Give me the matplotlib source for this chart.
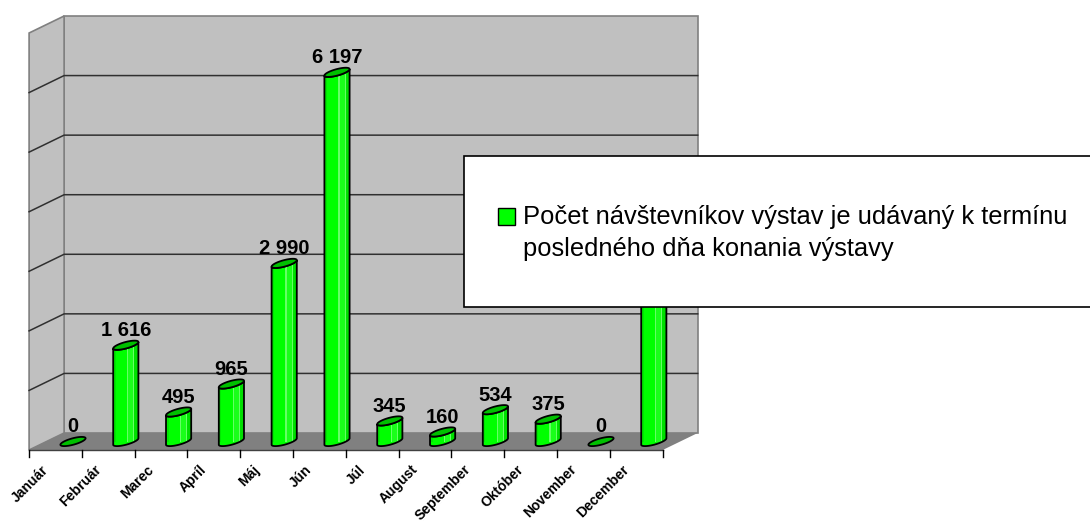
import numpy as np
import matplotlib
matplotlib.use("Agg")
import matplotlib.pyplot as plt
from matplotlib.patches import Polygon, Rectangle
from matplotlib.lines import Line2D
from matplotlib.transforms import IdentityTransform, offset_copy

months = ["Január", "Február", "Marec", "Apríl", "Máj", "Jún", "Júl",
          "August", "September", "Október", "November", "December"]
visitors = [0, 1616, 495, 965, 2990, 6197, 345, 160, 534, 375, 0, 3500]
legend_label = ("Počet návštevníkov výstav je udávaný k termínu\n"
                "posledného dňa konania výstavy")
y_max = 7000
grid_step = 1000

plt.rcParams['font.family'] = ['Liberation Sans', 'DejaVu Sans']

W, H = 1090, 527
fig = plt.figure(figsize=(W / 100, H / 100), dpi=100)
ax = fig.add_axes([46.6 / W, 85.5 / H, 633.6 / W, 417 / H])
ax.set_xlim(-0.5, len(months) - 0.5)
ax.set_ylim(0, y_max)
ax.axis('off')

ident = IdentityTransform()
BACK = (17.5, 8.5)     # half depth of the box, pixels
FRONT = (-17.5, -8.5)
WALL = '#c0c0c0'
FLOOR = '#808080'
EDGE = '#808080'
GRID = '#303030'

# legend box, figure fraction (left, bottom, width, height)
LEG = (464 / W, 1 - 307 / H, 0.7, 151 / H)


def disp(x, v, off=(0, 0)):
    px, py = ax.transData.transform((x, v))
    return px + off[0], py + off[1]


def poly(pts, **kw):
    p = Polygon(pts, closed=True, transform=ident, clip_on=False, **kw)
    ax.add_patch(p)
    return p


def line(pts, **kw):
    xs, ys = zip(*pts)
    ax.add_line(Line2D(xs, ys, transform=ident, clip_on=False, **kw))


def under_legend(px, py):
    fx, fy = px / W, py / H
    return LEG[0] - 0.03 < fx and LEG[1] - 0.02 < fy < LEG[1] + LEG[3]


x0, x1 = -0.5, len(months) - 0.5

# walls and floor
poly([disp(x0, 0, BACK), disp(x1, 0, BACK), disp(x1, y_max, BACK), disp(x0, y_max, BACK)],
     facecolor=WALL, edgecolor=EDGE, lw=1.2, zorder=1)
poly([disp(x0, 0, BACK), disp(x0, y_max, BACK), disp(x0, y_max, FRONT), disp(x0, 0, FRONT)],
     facecolor=WALL, edgecolor=EDGE, lw=1.2, zorder=1)
poly([disp(x0, 0, FRONT), disp(x0, 0, BACK), disp(x1, 0, BACK), disp(x1, 0, FRONT)],
     facecolor=FLOOR, edgecolor='none', zorder=1)
line([disp(x0, 0, FRONT), disp(x1, 0, FRONT)], color='#404040', lw=1, zorder=2)

for g in range(grid_step, y_max, grid_step):
    line([disp(x1, g, BACK), disp(x0, g, BACK), disp(x0, g, FRONT)],
         color=GRID, lw=1.1, zorder=2)

# ticks on the front edge
for k in range(len(months) + 1):
    px, py = disp(x0 + k, 0, FRONT)
    line([(px, py), (px, py - 7)], color='black', lw=1, zorder=2)

# cylinders
R, A, B = 9.0, 8.8, 4.6
phi = np.arctan2(A, R)
half = np.sqrt(R ** 2 + A ** 2)
tf = np.linspace(phi, phi - np.pi, 40)
tall = np.linspace(0, 2 * np.pi, 80)
strips = [(0.00, 0.10, '#00e800'), (0.10, 0.55, '#00ff00'), (0.55, 0.60, '#66ff66'),
          (0.60, 0.80, '#1aff1a'), (0.80, 0.84, '#66ff66'), (0.84, 1.00, '#00e000')]

for i, v in enumerate(visitors):
    cx, ct = disp(i, v)
    _, cb = disp(i, 0)
    ex_f, ey_f = R * np.cos(tf) + A * np.sin(tf), B * np.sin(tf)
    if v > 0:
        body = [(cx + a, ct + b) for a, b in zip(ex_f, ey_f)] + \
               [(cx + a, cb + b) for a, b in zip(ex_f[::-1], ey_f[::-1])]
        bp = poly(body, facecolor='#00ff00', edgecolor='none', zorder=3)
        for s0, s1, col in strips:
            r = Rectangle((cx - half + 2 * half * s0, cb - 10), 2 * half * (s1 - s0),
                          ct - cb + 20, transform=ident, facecolor=col,
                          edgecolor='none', zorder=3.1, clip_on=True)
            ax.add_patch(r)
            r.set_clip_path(bp)
        poly(body, facecolor='none', edgecolor='black', lw=1.3, zorder=3.2)
    ex, ey = R * np.cos(tall) + A * np.sin(tall), B * np.sin(tall)
    poly([(cx + a, ct + b) for a, b in zip(ex, ey)],
         facecolor='#00c000', edgecolor='black', lw=1.3, zorder=3.3)

    # value label (the one hidden behind the legend box is not drawn)
    if not under_legend(cx, ct + 9):
        ax.text(i, v, f"{v:,}".replace(",", " "),
                transform=offset_copy(ax.transData, fig, y=9, units='dots'),
                ha='center', va='baseline', fontsize=14.5, fontweight='bold', zorder=4)

    ax.text(i, 0, months[i],
            transform=offset_copy(ax.transData, fig, x=-32, y=-21, units='dots'),
            ha='right', va='top', rotation=45, rotation_mode='anchor',
            fontsize=10, fontweight='bold', zorder=4)

# legend box
ax.add_patch(Rectangle(LEG[:2], LEG[2], LEG[3], transform=fig.transFigure,
                       facecolor='white', edgecolor='black', lw=1.2, zorder=10,
                       clip_on=False))
ax.add_patch(Rectangle((498 / W, 1 - 225 / H), 17 / W, 17 / H, transform=fig.transFigure,
                       facecolor='#00ff00', edgecolor='black', lw=1, zorder=11,
                       clip_on=False))
ax.text(523 / W, 1 - 233 / H, legend_label, transform=fig.transFigure,
        ha='left', va='center', fontsize=18.4, linespacing=1.38, zorder=11)

fig.savefig("out.png", dpi=100)
